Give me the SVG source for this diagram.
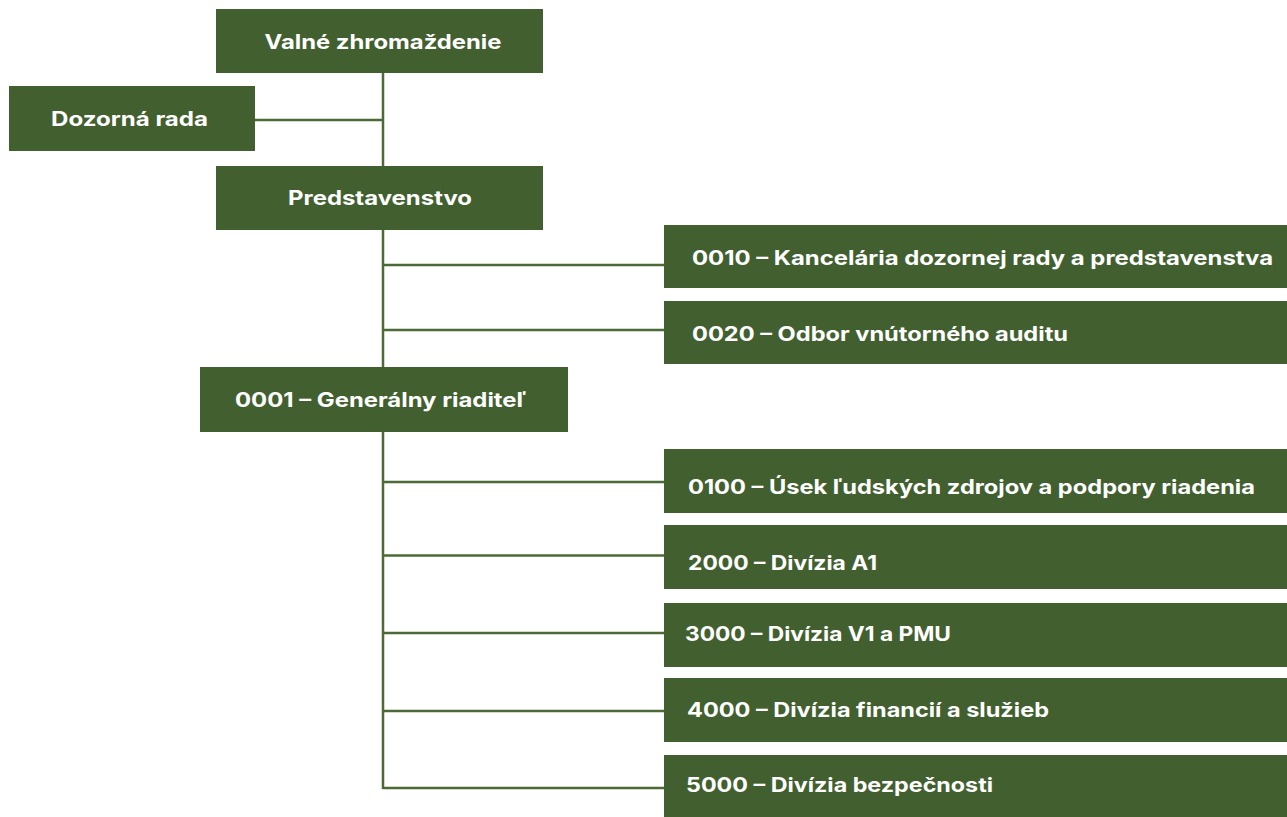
<svg xmlns="http://www.w3.org/2000/svg" width="1287" height="817" viewBox="0 0 1287 817">
<style>
.box{fill:#42602f}
.lbl{font-family:Inter,"Open Sans","Liberation Sans",sans-serif;font-weight:700;font-size:20px;fill:#ffffff}
.c{text-anchor:middle}
.conn line{stroke:#4b6a36;stroke-width:2.5;fill:none}
</style>
<rect width="1287" height="817" fill="#ffffff"/>
<g id="connectors" class="conn">
<line x1="383" y1="73" x2="383" y2="166"/>
<line x1="255" y1="120" x2="383" y2="120"/>
<line x1="383" y1="230" x2="383" y2="367"/>
<line x1="383" y1="265" x2="664" y2="265"/>
<line x1="383" y1="330" x2="664" y2="330"/>
<line x1="383" y1="432" x2="383" y2="789"/>
<line x1="383" y1="482" x2="664" y2="482"/>
<line x1="383" y1="555.5" x2="664" y2="555.5"/>
<line x1="383" y1="633" x2="664" y2="633"/>
<line x1="383" y1="711" x2="664" y2="711"/>
<line x1="383" y1="788" x2="664" y2="788"/>
</g>
<g id="valne"><rect class="box" x="216" y="9" width="327" height="64"/><text class="lbl c" x="383" y="49" textLength="237" lengthAdjust="spacingAndGlyphs">Valné zhromaždenie</text></g>
<g id="dozorna"><rect class="box" x="9" y="86" width="246" height="65"/><text class="lbl c" x="129.5" y="126" textLength="157" lengthAdjust="spacingAndGlyphs">Dozorná rada</text></g>
<g id="predstavenstvo"><rect class="box" x="216" y="166" width="327" height="64"/><text class="lbl c" x="380" y="205" textLength="184" lengthAdjust="spacingAndGlyphs">Predstavenstvo</text></g>
<g id="n0001"><rect class="box" x="200" y="367" width="368" height="65"/><text class="lbl" x="235" y="407" textLength="291" lengthAdjust="spacingAndGlyphs">0001 – Generálny riaditeľ</text></g>
<g id="n0010"><rect class="box" x="664" y="225" width="623" height="63"/><text class="lbl" x="692" y="265" textLength="581" lengthAdjust="spacingAndGlyphs">0010 – Kancelária dozornej rady a predstavenstva</text></g>
<g id="n0020"><rect class="box" x="664" y="301" width="623" height="63"/><text class="lbl" x="692" y="341" textLength="376" lengthAdjust="spacingAndGlyphs">0020 – Odbor vnútorného auditu</text></g>
<g id="n0100"><rect class="box" x="664" y="449" width="623" height="64"/><text class="lbl" x="688" y="494" textLength="567" lengthAdjust="spacingAndGlyphs">0100 – Úsek ľudských zdrojov a podpory riadenia</text></g>
<g id="n2000"><rect class="box" x="664" y="525" width="623" height="64"/><text class="lbl" x="688" y="570" textLength="189" lengthAdjust="spacingAndGlyphs">2000 – Divízia A1</text></g>
<g id="n3000"><rect class="box" x="664" y="603" width="623" height="64"/><text class="lbl" x="685" y="641" textLength="266" lengthAdjust="spacingAndGlyphs">3000 – Divízia V1 a PMU</text></g>
<g id="n4000"><rect class="box" x="664" y="678" width="623" height="64"/><text class="lbl" x="687" y="717" textLength="362" lengthAdjust="spacingAndGlyphs">4000 – Divízia financií a služieb</text></g>
<g id="n5000"><rect class="box" x="664" y="755" width="623" height="62"/><text class="lbl" x="686" y="792" textLength="307" lengthAdjust="spacingAndGlyphs">5000 – Divízia bezpečnosti</text></g>
</svg>
